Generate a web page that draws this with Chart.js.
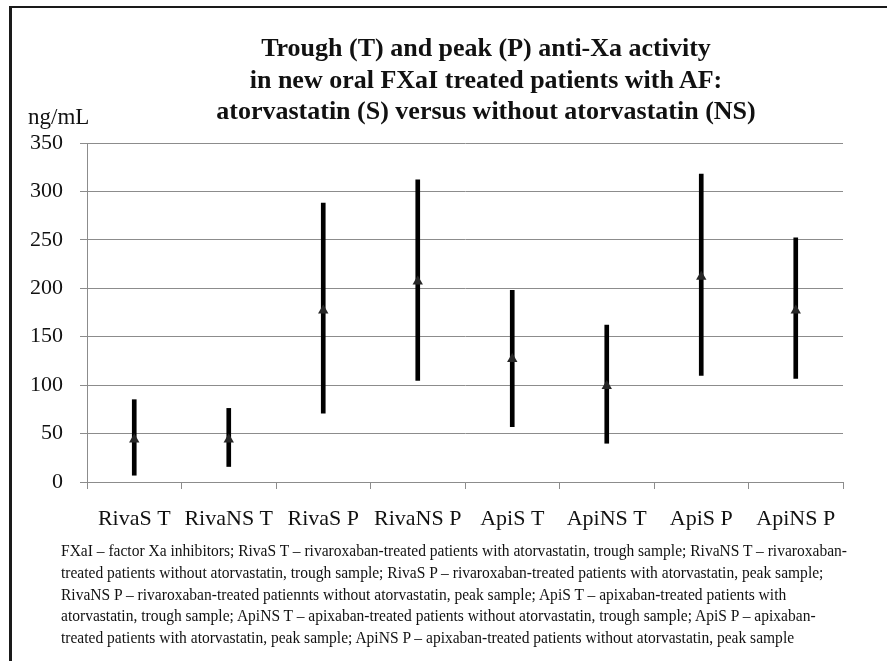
<!DOCTYPE html>
<html>
<head>
<meta charset="utf-8">
<script src="https://cdn.jsdelivr.net/npm/chart.js@4"></script>
<style>
  body { margin: 0; background: #fff; }
  #wrap { position: relative; width: 887px; height: 661px; overflow: hidden; background: #fff; }
  #frame { position: absolute; left: 9px; top: 6px; right: -5px; bottom: -5px; border-left: 3px solid #1a1a1a; border-top: 2px solid #1a1a1a; }
  canvas { position: absolute; left: 0; top: 0; }
  .txt { position: absolute; font-family: "Liberation Serif", "Times New Roman", serif; color: #111; white-space: nowrap; }
  #title { left: 186px; top: 32px; width: 600px; text-align: center; font-weight: bold; font-size: 26px; line-height: 31.5px; }
  #unit { left: 28px; top: 104px; font-size: 23px; }
  #note { left: 61px; top: 540px; font-size: 16px; line-height: 21.8px; transform-origin: 0 0; }
</style>
</head>
<body>
<div id="wrap">
  <canvas id="myChart" width="887" height="661"></canvas>
  <div id="frame"></div>
  <div class="txt" id="title">
    <div>Trough (T) and peak (P) anti-Xa activity</div>
    <div>in new oral FXaI treated patients with AF:</div>
    <div>atorvastatin (S) versus without atorvastatin (NS)</div>
  </div>
  <div class="txt" id="unit">ng/mL</div>
  <div class="txt" id="note">
    <div id="note1">FXaI – factor Xa inhibitors; RivaS T – rivaroxaban-treated patients with atorvastatin, trough sample; RivaNS T – rivaroxaban-</div>
    <div>treated patients without atorvastatin, trough sample; RivaS P – rivaroxaban-treated patients with atorvastatin, peak sample;</div>
    <div>RivaNS P – rivaroxaban-treated patiennts without atorvastatin, peak sample; ApiS T – apixaban-treated patients with</div>
    <div>atorvastatin, trough sample; ApiNS T – apixaban-treated patients without atorvastatin, trough sample; ApiS P – apixaban-</div>
    <div>treated patients with atorvastatin, peak sample; ApiNS P – apixaban-treated patients without atorvastatin, peak sample</div>
  </div>
</div>
<script>
const groups = ['RivaS T', 'RivaNS T', 'RivaS P', 'RivaNS P', 'ApiS T', 'ApiNS T', 'ApiS P', 'ApiNS P'];
const lows = [7, 16, 71, 105, 57, 40, 110, 107];
const highs = [85, 76, 288, 312, 198, 162, 318, 252];
const means = [44, 44, 177, 207, 127, 99, 212, 177];
const yTicks = [0, 50, 100, 150, 200, 250, 300, 350];

// squeeze footnote so the first line spans the same width as the picture
const note = document.getElementById('note');
const w1 = document.getElementById('note1').getBoundingClientRect().width;
note.style.transform = 'scaleX(' + (786 / w1) + ')';

const serif = '"Liberation Serif", "Times New Roman", serif';
const gridColor = '#8c8c8c';

const ctx = document.getElementById('myChart').getContext('2d');
new Chart(ctx, {
  data: {
    labels: groups,
    datasets: [
      {
        type: 'line',
        label: 'mean',
        data: means,
        showLine: false,
        pointStyle: 'triangle',
        pointRadius: 6,
        pointBorderWidth: 0,
        pointBackgroundColor: '#262626',
        order: 1
      },
      {
        type: 'bar',
        label: 'range',
        data: lows.map((l, i) => [l, highs[i]]),
        backgroundColor: '#000',
        barThickness: 4,
        order: 2
      }
    ]
  },
  options: {
    responsive: false,
    animation: false,
    devicePixelRatio: 1,
    layout: { padding: { top: 143, right: 44, bottom: 119, left: 0 } },
    plugins: {
      legend: { display: false },
      tooltip: { enabled: false }
    },
    scales: {
      x: {
        grid: { drawOnChartArea: false, color: gridColor, tickLength: 7, offset: true },
        border: { color: gridColor },
        ticks: { color: '#111', padding: 17, maxRotation: 0, font: { family: serif, size: 22 } },
        afterFit: s => { s.height = 60; }
      },
      y: {
        min: 0,
        max: 350,
        afterBuildTicks: s => { s.ticks = yTicks.map(v => ({ value: v })); },
        grid: { color: gridColor, tickLength: 7 },
        border: { color: gridColor },
        ticks: { color: '#111', padding: 17, font: { family: serif, size: 22 } },
        afterFit: s => { s.width = 87; }
      }
    }
  }
});
</script>
</body>
</html>
